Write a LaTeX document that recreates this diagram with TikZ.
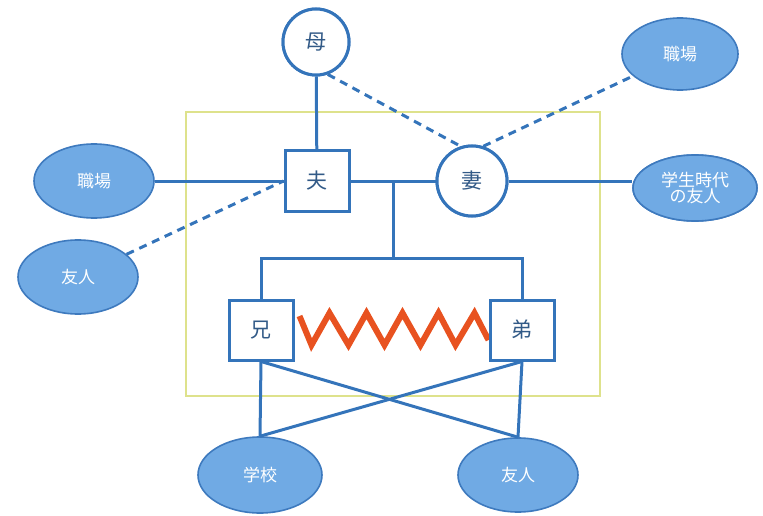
\documentclass[tikz,border=0pt]{standalone}
\usepackage{fontspec}
\setmainfont{Noto Sans CJK JP}
\usetikzlibrary{shapes.geometric}
\definecolor{linkblue}{RGB}{52,116,186}
\definecolor{ovalfill}{RGB}{112,170,228}
\definecolor{ovaledge}{RGB}{62,122,190}
\definecolor{kintext}{RGB}{50,90,135}
\definecolor{framey}{RGB}{222,226,140}
\definecolor{conflict}{RGB}{232,82,32}
\tikzset{
  link/.style={draw=linkblue, line width=3pt},
  weak/.style={link, dash pattern=on 8pt off 6pt},
  kinbox/.style={draw=linkblue, line width=3pt, fill=white, rectangle,
    minimum width=64pt, minimum height=60pt, inner sep=0pt,
    text=kintext, font=\fontsize{21}{23}\selectfont},
  kinround/.style={kinbox, circle, minimum size=66pt},
  outer/.style={ellipse, draw=ovaledge, line width=1.6pt, fill=ovalfill,
    minimum width=120pt, minimum height=74pt, inner sep=0pt,
    text=white, font=\fontsize{17}{19}\selectfont, align=center}
}
\begin{document}
\begin{tikzpicture}[x=1pt,y=-1pt]
  \useasboundingbox (0,0) rectangle (763,516);
  % household frame
  \draw[framey, line width=1.8pt] (186,112) rectangle (600,396);

  % family members
  \node[kinround] (mother) at (316,42) {母};
  \node[kinbox]   (husband) at (317,181) {夫};
  \node[kinround, minimum size=70pt] (wife) at (472,181) {妻};
  \node[kinbox]   (elder) at (261,330) {兄};
  \node[kinbox]   (younger) at (522,330) {弟};

  % outside relations
  \node[outer] (workH) at (94,181) {職場};
  \node[outer] (friendH) at (78,277) {友人};
  \node[outer, minimum width=116pt, minimum height=72pt] (workW) at (680,54) {職場};
  \node[outer, minimum width=124pt, minimum height=66pt] (schoolF) at (695,188) {学生時代\\[-3pt]の友人};
  \node[outer, minimum width=124pt, minimum height=76pt] (school) at (260,475) {学校};
  \node[outer] (friendK) at (518,475) {友人};

  \coordinate (jn) at (393,181);
  \coordinate (bar) at (393,258);

  % connectors
  \draw[link] (mother) -- (husband);
  \draw[weak] (mother.-70) -- (wife.108);
  \draw[weak] (wife.72) -- (workW);
  \draw[link] (workH) -- (husband);
  \draw[weak] (friendH) -- (husband.west);
  \draw[link] (husband) -- (wife);
  \draw[link] (wife.east) -- (wife.east -| schoolF.west);
  \draw[link] (jn) -- (bar);
  \draw[link] (elder.north) |- (bar) -| (younger.north);
  \draw[link] (elder.south) -- (school.north);
  \draw[link] (elder.south) -- (friendK.north);
  \draw[link] (younger.south) -- (school.north);
  \draw[link] (younger.south) -- (friendK.north);

  % redraw the outer oval over the line end
  \node[outer, minimum width=124pt, minimum height=66pt] at (schoolF) {学生時代\\[-3pt]の友人};

  % sibling conflict
  \draw[conflict, line width=6pt, line join=miter]
    (elder.east) ++(5,-14) -- ++(12,29) -- ++(18,-32) -- ++(19,32) -- ++(18,-32)
    -- ++(18,32) -- ++(18,-32) -- ++(18,32) -- ++(18,-32) -- ++(17,32)
    -- ++(19,-32) -- ++(14,27);

  % redraw boxes above the lines
  \node[kinround] at (mother) {母};
  \node[kinbox] at (husband) {夫};
  \node[kinround, minimum size=70pt] at (wife) {妻};
  \node[kinbox] at (elder) {兄};
  \node[kinbox] at (younger) {弟};
\end{tikzpicture}
\end{document}
